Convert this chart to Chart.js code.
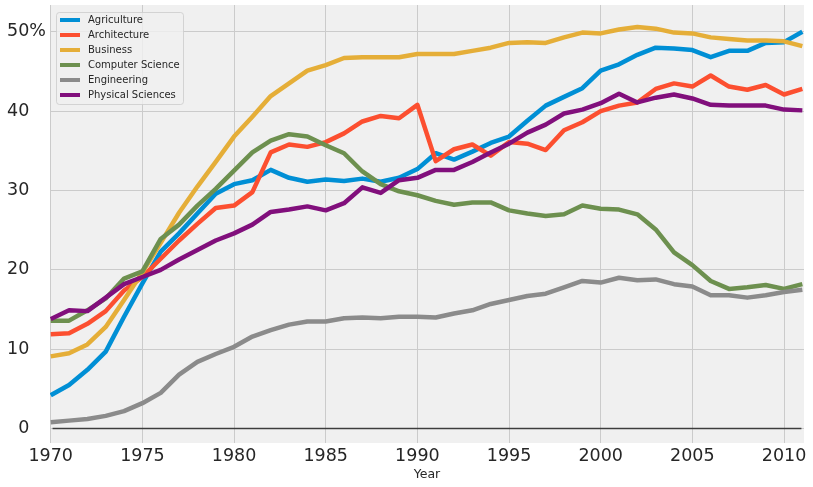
<!DOCTYPE html>
<html>
<head>
<meta charset="utf-8">
<script src="https://cdn.jsdelivr.net/npm/chart.js@4/dist/chart.umd.min.js"></script>
<style>
  html, body { margin: 0; padding: 0; background: #ffffff; }
  #wrap { width: 813px; height: 487px; position: relative; }
</style>
</head>
<body>
<div id="wrap"><canvas id="degrees"></canvas></div>
<script>
// share of bachelor's degrees awarded to women (%), by year
const years = [1970, 1971, 1972, 1973, 1974, 1975, 1976, 1977, 1978, 1979,
  1980, 1981, 1982, 1983, 1984, 1985, 1986, 1987, 1988, 1989,
  1990, 1991, 1992, 1993, 1994, 1995, 1996, 1997, 1998, 1999,
  2000, 2001, 2002, 2003, 2004, 2005, 2006, 2007, 2008, 2009, 2010, 2011];

const agriculture = [4.2, 5.5, 7.4, 9.7, 14.1, 18.3, 22.3, 24.6, 27.1, 29.6,
  30.8, 31.3, 32.6, 31.6, 31.1, 31.4, 31.2, 31.5, 31.1, 31.6,
  32.7, 34.7, 33.9, 34.9, 36.0, 36.8, 38.8, 40.7, 41.8, 42.9,
  45.1, 45.9, 47.1, 48.0, 47.9, 47.7, 46.8, 47.6, 47.6, 48.6, 48.7, 50.0];

const architecture = [11.9, 12.0, 13.2, 14.8, 17.4, 19.1, 21.4, 23.7, 25.8, 27.8,
  28.1, 29.8, 34.8, 35.8, 35.5, 36.1, 37.2, 38.7, 39.4, 39.1,
  40.8, 33.7, 35.2, 35.8, 34.4, 36.1, 35.9, 35.1, 37.6, 38.6,
  40.0, 40.7, 41.1, 42.8, 43.5, 43.1, 44.5, 43.1, 42.7, 43.3, 42.1, 42.8];

const business = [9.1, 9.5, 10.6, 12.8, 16.2, 19.7, 23.4, 27.2, 30.5, 33.6,
  36.8, 39.3, 41.9, 43.5, 45.1, 45.8, 46.7, 46.8, 46.8, 46.8,
  47.2, 47.2, 47.2, 47.6, 48.0, 48.6, 48.7, 48.6, 49.3, 49.9,
  49.8, 50.3, 50.6, 50.4, 49.9, 49.8, 49.3, 49.1, 48.9, 48.9, 48.8, 48.2];

const computerScience = [13.6, 13.6, 14.9, 16.4, 18.9, 19.8, 23.9, 25.7, 28.1, 30.2,
  32.5, 34.8, 36.3, 37.1, 36.8, 35.7, 34.7, 32.4, 30.8, 29.9,
  29.4, 28.7, 28.2, 28.5, 28.5, 27.5, 27.1, 26.8, 27.0, 28.1,
  27.7, 27.6, 27.0, 25.1, 22.2, 20.6, 18.6, 17.6, 17.8, 18.1, 17.6, 18.2];

const engineering = [0.8, 1.0, 1.2, 1.6, 2.2, 3.2, 4.5, 6.8, 8.4, 9.4,
  10.3, 11.6, 12.4, 13.1, 13.5, 13.5, 13.9, 14.0, 13.9, 14.1,
  14.1, 14.0, 14.5, 14.9, 15.7, 16.2, 16.7, 17.0, 17.8, 18.6,
  18.4, 19.0, 18.7, 18.8, 18.2, 17.9, 16.8, 16.8, 16.5, 16.8, 17.2, 17.5];

const physicalSciences = [13.8, 14.9, 14.8, 16.5, 18.2, 19.1, 20.0, 21.3, 22.5, 23.7,
  24.6, 25.7, 27.3, 27.6, 28.0, 27.5, 28.4, 30.4, 29.7, 31.3,
  31.6, 32.6, 32.6, 33.6, 34.8, 35.9, 37.3, 38.3, 39.7, 40.2,
  41.0, 42.2, 41.1, 41.7, 42.1, 41.6, 40.8, 40.7, 40.7, 40.7, 40.2, 40.1];

const seriesNames = ['Agriculture', 'Architecture', 'Business', 'Computer Science', 'Engineering', 'Physical Sciences'];
const seriesValues = [agriculture, architecture, business, computerScience, engineering, physicalSciences];
const seriesColors = ['#008fd5', '#fc4f30', '#e5ae38', '#6d904f', '#8b8b8b', '#810f7c'];

const xTicks = [1970, 1975, 1980, 1985, 1990, 1995, 2000, 2005, 2010];
const yTicks = [0, 10, 20, 30, 40, 50];
const yTickLabels = ['0   ', '10   ', '20   ', '30   ', '40   ', '50%'];

const tickFont = { family: 'DejaVu Sans', size: 17.5 };

// grey plot background like the fivethirtyeight style
const plotBackground = {
  id: 'plotBackground',
  beforeDraw(chart) {
    const { ctx, chartArea: a } = chart;
    ctx.save();
    ctx.fillStyle = '#f0f0f0';
    ctx.fillRect(a.left, a.top, a.right - a.left, a.bottom - a.top);
    ctx.restore();
  }
};

// dark baseline at y = 0
const zeroLine = {
  id: 'zeroLine',
  beforeDatasetsDraw(chart) {
    const { ctx, scales: { x, y } } = chart;
    const py = y.getPixelForValue(0);
    ctx.save();
    ctx.strokeStyle = 'rgba(0,0,0,0.7)';
    ctx.lineWidth = 1.5;
    ctx.beginPath();
    ctx.moveTo(x.getPixelForValue(1970.1), py);
    ctx.lineTo(x.getPixelForValue(2010.95), py);
    ctx.stroke();
    ctx.restore();
  }
};

// legend box in the upper left corner of the plot
const boxLegend = {
  id: 'boxLegend',
  afterDatasetsDraw(chart) {
    const { ctx, chartArea: a } = chart;
    const sets = chart.data.datasets;
    const left = a.left + 6, top = a.top + 7;
    const w = 127, rowH = 15;
    const h = rowH * sets.length + 2;
    ctx.save();
    ctx.fillStyle = 'rgba(240,240,240,0.8)';
    ctx.strokeStyle = 'rgba(204,204,204,0.8)';
    ctx.lineWidth = 1;
    ctx.beginPath();
    ctx.roundRect(left + 0.5, top + 0.5, w, h, 3);
    ctx.fill();
    ctx.stroke();
    ctx.font = '10px "DejaVu Sans"';
    ctx.textBaseline = 'middle';
    sets.forEach((ds, i) => {
      const cy = top + 8 + i * rowH;
      ctx.fillStyle = ds.borderColor;
      ctx.fillRect(left + 4, cy - 2, 20, 4);
      ctx.fillStyle = '#262626';
      ctx.fillText(ds.label, left + 32, cy + 0.5);
    });
    ctx.restore();
  }
};

const datasets = seriesNames.map((name, i) => ({
  label: name,
  data: years.map((yr, j) => ({ x: yr, y: seriesValues[i][j] })),
  borderColor: seriesColors[i],
  backgroundColor: seriesColors[i],
  borderWidth: 4.5,
  pointRadius: 0,
  tension: 0,
  borderJoinStyle: 'round',
  borderCapStyle: 'butt',
  order: seriesNames.length - i
}));

function noEdgePadding(scale) {
  scale.paddingTop = 0;
  scale.paddingBottom = 0;
  scale.paddingLeft = 0;
  scale.paddingRight = 0;
}

new Chart(document.getElementById('degrees'), {
  type: 'line',
  data: { datasets },
  plugins: [plotBackground, zeroLine, boxLegend],
  options: {
    responsive: true,
    maintainAspectRatio: false,
    animation: false,
    layout: { padding: { left: 0, right: 9, top: 5, bottom: 0 } },
    plugins: { legend: { display: false }, tooltip: { enabled: false } },
    scales: {
      x: {
        type: 'linear',
        min: 1969.96,
        max: 2011.09,
        afterBuildTicks(scale) { scale.ticks = xTicks.map(v => ({ value: v })); },
        afterFit(scale) { scale.height = 44; noEdgePadding(scale); },
        ticks: { font: tickFont, color: '#262626', padding: 3, maxRotation: 0, autoSkip: false,
          callback: v => String(v) },
        grid: { color: '#cbcbcb', lineWidth: 1, drawTicks: false },
        border: { display: false },
        title: { display: true, text: 'Year', color: '#262626',
          font: { family: 'DejaVu Sans', size: 12.5 }, padding: { top: 0, bottom: 5 } }
      },
      y: {
        min: -1.82,
        max: 53.38,
        afterBuildTicks(scale) { scale.ticks = yTicks.map(v => ({ value: v })); },
        afterFit(scale) { scale.width = 50; noEdgePadding(scale); },
        ticks: { font: tickFont, color: '#262626', padding: 4, autoSkip: false,
          callback: v => yTickLabels[yTicks.indexOf(v)] },
        grid: { color: '#cbcbcb', lineWidth: 1, drawTicks: false },
        border: { display: false }
      }
    }
  }
});
</script>
</body>
</html>
